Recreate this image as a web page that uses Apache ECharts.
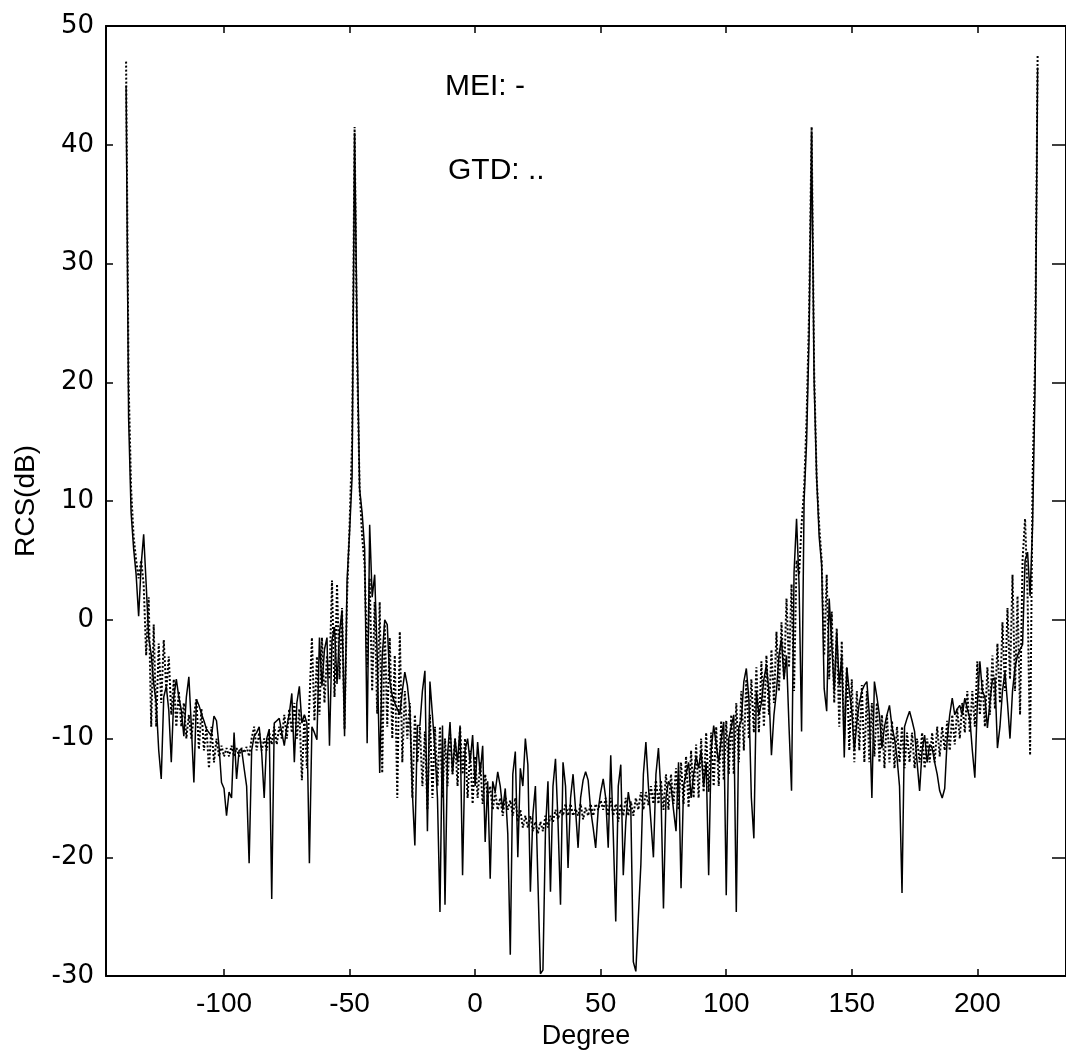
<!DOCTYPE html>
<html>
<head>
<meta charset="utf-8">
<title>RCS vs Degree</title>
<script src="https://cdn.jsdelivr.net/npm/echarts@6/dist/echarts.min.js"></script>
<style>
  html, body { margin: 0; padding: 0; background: #fff; }
  #chart { width: 1066px; height: 1055px; }
</style>
</head>
<body>
<div id="chart"></div>
<script>
// one sample per degree, first sample at degreeStart
const degreeStart = -139;

// MEI: solid line (dB)
const meiValues = [
  45, 17, 9, 6, 3.8, 0.3, 4.6, 7.2, 3, -1.5,
  -2.9, -5.4, -7, -11, -13.4, -6.5, -5.6, -7.6, -12, -6.5,
  -5, -6.5, -7.6, -9.8, -6.5, -4.8, -9, -13.7, -6.7, -7.2,
  -7.9, -8.5, -9.2, -9.5, -9.8, -8.1, -8.5, -10.6, -13.7, -14.2,
  -16.5, -14.5, -15, -9.5, -13.4, -11, -10.9, -12.5, -14, -20.5,
  -11, -9.8, -9.5, -9, -11.2, -15, -10, -9.2, -23.5, -8.7,
  -8.5, -8.3, -9.5, -10.6, -9, -7.9, -6.2, -12, -7, -5.6,
  -8.7, -8, -8.7, -20.5, -9, -9.5, -10.1, -1.5, -5.6, -2.5,
  -1.5, -10.6, -1.7, -0.6, -5.4, -1, 0.8, -9.8, 3.3, 7.4,
  12, 41, 24, 11, 9, 6, -10.4, 8, 1.9, 3.8,
  -3, -12.9, -3.1, 0, -0.4, -5.1, -6.4, -7, -7.5, -8,
  -6, -4.4, -5.5, -7.5, -14.5, -19, -8.9, -8.9, -6, -4.3,
  -17.8, -5.2, -8, -11, -15, -24.6, -8.9, -24, -11.4, -8.6,
  -13, -10, -12, -8.9, -21.5, -11, -10, -12, -9.7, -14,
  -10.3, -13, -10.6, -18.7, -13.6, -21.8, -13.6, -14.5, -12.8, -14,
  -16, -14.2, -18, -28.2, -13, -11.1, -20, -12.5, -14, -10,
  -12.2, -22.9, -16.4, -14, -22, -29.8, -29.5, -17.8, -13.6, -22.9,
  -14, -11.7, -17, -24, -12, -14, -20.9, -15, -13, -16,
  -19.2, -15, -13.5, -12.8, -13.5, -16, -17.5, -19.2, -16, -14.5,
  -13.4, -15, -19.2, -11.4, -18, -25.4, -14, -12.2, -21.5, -17,
  -14.5, -15.9, -28.8, -29.6, -25, -20.6, -13, -10.3, -14, -17,
  -20, -13, -10.8, -14.5, -24.3, -15, -13.6, -14, -16, -17.8,
  -12, -22.6, -14, -13, -12, -15, -13, -11.5, -12.5, -11,
  -14, -12, -21.5, -11, -8.9, -10.5, -12, -10, -8.6, -23.2,
  -10, -9, -8, -24.6, -9, -8.5, -5.2, -4.1, -6.6, -15,
  -18.4, -6, -8, -7, -5, -3.8, -6.1, -11.4, -8, -6,
  -3, -1.6, -5, -3, -9, -14.4, 4, 8.5, 3, -9.4,
  10, 15, 24, 41, 20, 12, 7, 4.6, -5.8, -7.7,
  1.8, -2, -6, -1, -5.5, -3, -11.6, -4, -6, -7.7,
  -11, -8.6, -7, -6, -5.5, -5.2, -8, -15, -5.2, -6.5,
  -8, -10.8, -9, -8, -7.2, -9, -10, -11.6, -14, -23,
  -9, -8.3, -7.7, -8.5, -9.4, -12, -14.4, -11, -9.7, -12,
  -10.5, -10.8, -12, -13, -14.4, -15, -14.2, -10, -8, -6.6,
  -8, -7.5, -7.2, -8, -6.6, -7.5, -8.3, -11, -13.3, -7,
  -3.5, -6, -6.5, -9.1, -7, -5, -4.9, -10.8, -9, -6,
  -4.4, -7, -10, -6, -4, -3, -2.5, -2.1, 5, 5.7,
  2, 8, 20, 46.5
];

// GTD: dotted line (dB)
const gtdValues = [
  47, 20, 11, 7, 5, 3.5, 5, 3, -3, 1.9,
  -9, -0.4, -9, -2, -7, -1.7, -6, -3.1, -8, -5,
  -9, -6, -9, -7, -10, -8, -10, -8, -6.7, -10.9,
  -7.5, -11, -9, -12.5, -9, -12, -10, -11.5, -10.6, -11.5,
  -10.8, -11.5, -10.6, -11.5, -10.8, -11.5, -10.8, -11.2, -10.7, -11.5,
  -10, -9, -11, -9.5, -11, -10, -11, -9.5, -10.5, -9,
  -10.5, -9, -10, -8, -10, -7.5, -9.5, -7, -10, -7.5,
  -13.5, -8, -12.5, -7, -1.5, -8.5, -3.1, -8, -1.5, -7,
  -3, -5, 3.3, -6.5, 3, -5, 1, -9.2, 2, 8,
  15, 41.5, 22, 11, 7, 4.6, -4, 3.5, -6, 1.5,
  -7.9, 1.5, -12.9, -0.4, -9, -1.5, -10, -3, -15, -1,
  -12, -6, -10, -7, -15, -8, -12, -9, -14, -9.4,
  -16, -8, -15, -9, -14, -9, -15, -10, -14, -9.5,
  -13, -10, -14, -9, -13, -10, -15, -11, -15.5, -11.5,
  -15, -12, -15.5, -13, -15, -14, -16, -14.5, -16, -15,
  -16.5, -14.8, -16, -15.2, -16.5, -15, -17, -16, -17.5, -16.5,
  -17.5, -16.5, -17.8, -17, -18, -17, -17.8, -16.5, -17.5, -16.5,
  -17, -16, -16.8, -16, -16.5, -15.5, -16.5, -15.5, -16.5, -15.9,
  -16.5, -15.5, -16.8, -15.8, -16.5, -15.5, -16.5, -15.5, -16, -15.2,
  -16, -15, -16.5, -15, -16.5, -15.5, -17, -15.5, -16.5, -15,
  -16.5, -15.3, -16.5, -15, -16, -14.5, -16, -14.5, -15.6, -14,
  -15.5, -13.5, -15.5, -13.5, -16, -13, -16, -13, -15.5, -12.5,
  -16, -12, -15.5, -11.5, -15.8, -11, -15, -10.5, -15, -10,
  -14.5, -9.5, -14.5, -9.5, -14, -9, -14, -8.5, -13.5, -8.5,
  -13, -8, -13, -7, -12, -6, -11, -5, -10, -5,
  -9.5, -4, -9.5, -3.5, -9, -3, -8, -2.5, -7, -1,
  -6, -0.2, -5, 1.8, -4, 3, -6, 5, 3.8, 8,
  11, 17, 26, 41.5, 21, 12, 8, 5, -3, 3.8,
  -5, 0.7, -7, -0.7, -9, -1.8, -10, -4, -11, -5,
  -12, -6, -11, -5.5, -12, -6, -12, -7, -11.5, -7,
  -12, -8, -12.5, -8, -12, -8.5, -12.5, -9, -12, -9,
  -12.5, -9.5, -12, -9.5, -12.5, -10, -12, -9.5, -12.5, -10,
  -12, -9.5, -12, -9, -11.5, -9, -11, -8.5, -11, -8,
  -10.5, -7.5, -10, -7, -9.5, -6, -9.5, -6, -9, -3.5,
  -8, -5, -9, -4, -8, -3, -7.5, -2, -7, -0.2,
  -6, 1, -5, 3.8, -6, 2, -8, 5, 8.5, 2,
  -11.4, 12, 22, 47.5
];

const seriesNames = ['MEI', 'GTD'];
const legendLabels = ['MEI: -', 'GTD: ..'];

const xRange = [-147, 235.3];
const yRange = [-30, 50];

function toPoints(values) {
  return values.map((v, i) => [degreeStart + i, v]);
}

const chart = echarts.init(document.getElementById('chart'), null, { renderer: 'canvas' });

const frameLine = { onZero: false, lineStyle: { color: '#000', width: 2 } };
const innerTick = { inside: true, length: 7, lineStyle: { color: '#000', width: 1.5 } };

chart.setOption({
  animation: false,
  backgroundColor: '#fff',
  // right edge of the box sits just past the page, as in the scan
  grid: { left: 106, right: -8, top: 26, bottom: 78, containLabel: false },
  xAxis: [
    {
      type: 'value',
      position: 'bottom',
      min: xRange[0],
      max: xRange[1],
      splitNumber: 8,
      axisLine: frameLine,
      axisTick: innerTick,
      splitLine: { show: false },
      axisLabel: {
        color: '#000',
        fontSize: 28,
        fontFamily: 'Liberation Sans',
        margin: 14,
        showMinLabel: false,
        showMaxLabel: false,
      },
      name: 'Degree',
      nameLocation: 'middle',
      nameGap: 42,
      nameTextStyle: { color: '#000', fontSize: 27, fontFamily: 'Liberation Sans' },
    },
    {
      type: 'value',
      position: 'top',
      min: xRange[0],
      max: xRange[1],
      splitNumber: 8,
      axisLine: frameLine,
      axisTick: innerTick,
      splitLine: { show: false },
      axisLabel: { show: false },
    },
  ],
  yAxis: [
    {
      type: 'value',
      position: 'left',
      min: yRange[0],
      max: yRange[1],
      interval: 10,
      axisLine: frameLine,
      axisTick: innerTick,
      splitLine: { show: false },
      axisLabel: {
        color: '#000',
        fontSize: 26,
        fontFamily: 'DejaVu Sans',
        margin: 12,
      },
      name: 'RCS(dB)',
      nameLocation: 'middle',
      nameGap: 58,
      nameTextStyle: { color: '#000', fontSize: 28, fontFamily: 'Liberation Sans' },
    },
    {
      type: 'value',
      position: 'right',
      min: yRange[0],
      max: yRange[1],
      interval: 10,
      axisLine: frameLine,
      axisTick: { inside: true, length: 14, lineStyle: { color: '#000', width: 1.5 } },
      splitLine: { show: false },
      axisLabel: { show: false },
    },
  ],
  graphic: [
    {
      type: 'text',
      left: 445,
      top: 72,
      style: { text: legendLabels[0], font: '30px "Liberation Sans"', fill: '#000' },
    },
    {
      type: 'text',
      left: 448,
      top: 156,
      style: { text: legendLabels[1], font: '30px "Liberation Sans"', fill: '#000' },
    },
  ],
  series: [
    {
      name: seriesNames[0],
      type: 'line',
      data: toPoints(meiValues),
      showSymbol: false,
      clip: true,
      lineStyle: { color: '#000', width: 1.5 },
      z: 3,
    },
    {
      name: seriesNames[1],
      type: 'line',
      data: toPoints(gtdValues),
      showSymbol: false,
      clip: true,
      lineStyle: { color: '#000', width: 2, type: 'dotted' },
      z: 2,
    },
  ],
});
</script>
</body>
</html>
